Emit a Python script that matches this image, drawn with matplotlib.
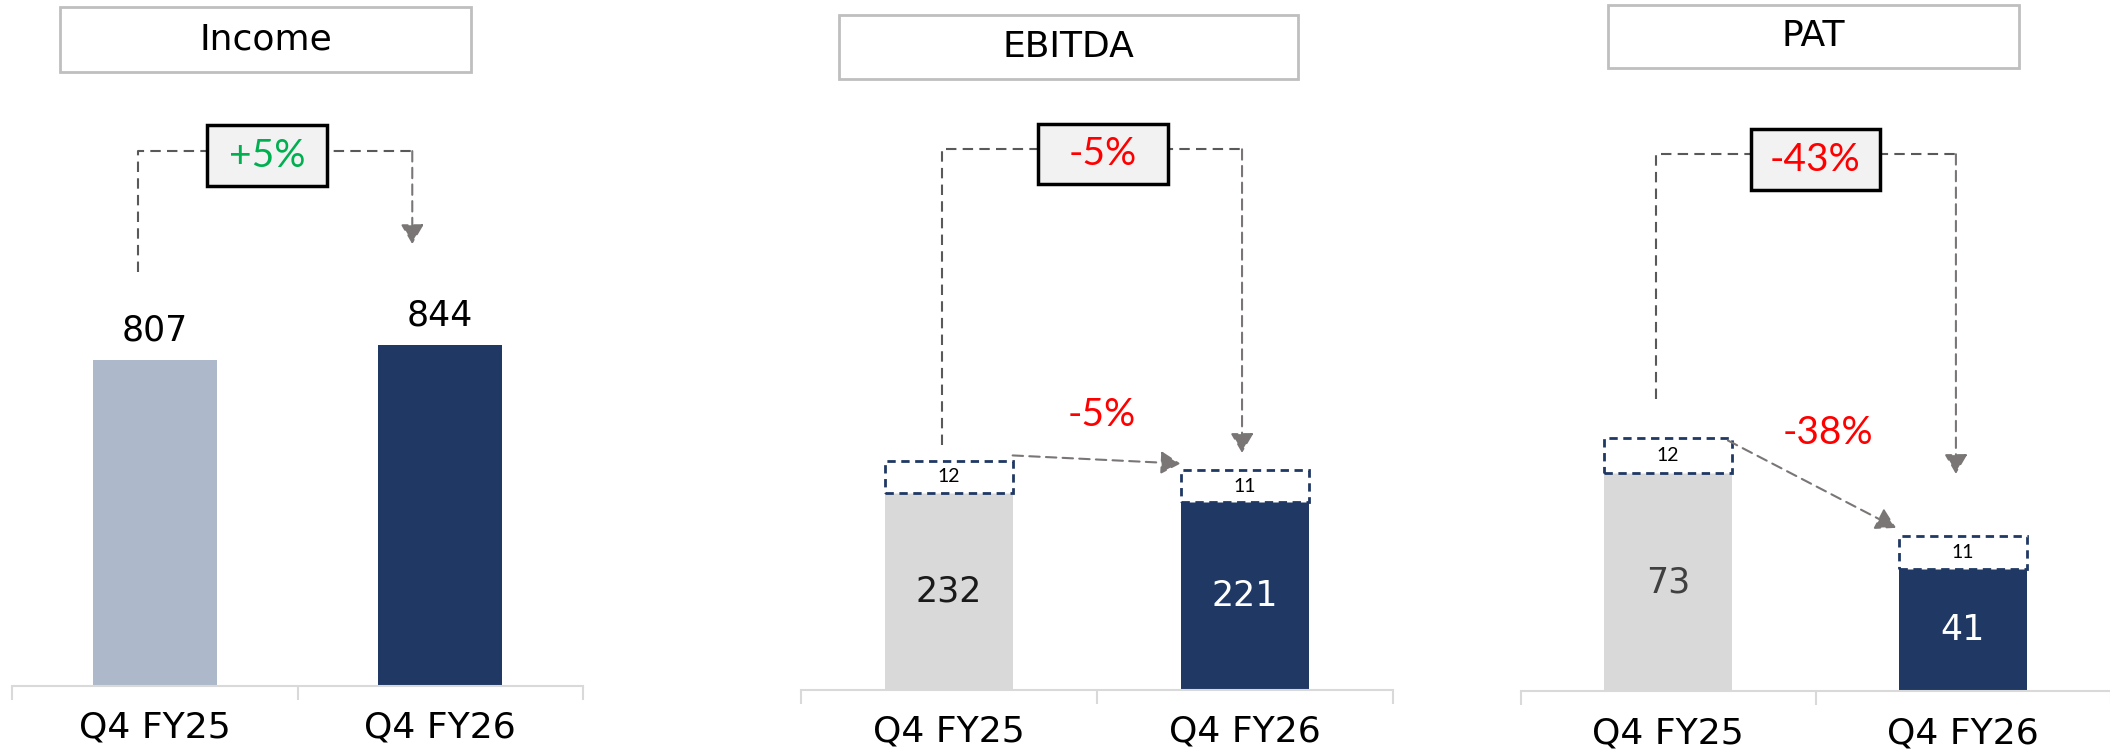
import matplotlib.pyplot as plt
from matplotlib.patches import Rectangle

# data
periods = ['Q4 FY25', 'Q4 FY26']

income = [807, 844]
income_change = '+5%'

ebitda = [232, 221]
ebitda_other = [12, 11]
ebitda_change = '-5%'
ebitda_change_core = '-5%'

pat = [73, 41]
pat_other = [12, 11]
pat_change = '-43%'
pat_change_core = '-38%'

# colours
NAVY = '#203864'
LIGHT_BLUE = '#ADB8CA'
LIGHT_GREY = '#D9D9D9'
ARROW = '#7A7676'
GREEN = '#00B050'
RED = '#FF0000'

MAIN = 'DejaVu Sans'
SANS = ['Lato', 'DejaVu Sans']

W, H = 2110, 755
fig = plt.figure(figsize=(W / 100, H / 100), dpi=100)


def make_ax(left, right, bottom, ymax):
    ax = fig.add_axes([left / W, 1 - bottom / H, (right - left) / W, bottom / H])
    ax.set_xlim(-0.5, 1.5)
    ax.set_ylim(0, ymax)
    for s in ['top', 'left', 'right']:
        ax.spines[s].set_visible(False)
    ax.spines['bottom'].set_color(LIGHT_GREY)
    ax.spines['bottom'].set_linewidth(1.5)
    ax.set_yticks([])
    ax.set_xticks([0, 1])
    ax.set_xticklabels(periods, fontsize=26, family=MAIN)
    ax.tick_params(axis='x', which='major', length=0, pad=18)
    ax.set_xticks([-0.5, 0.5, 1.5], minor=True)
    ax.tick_params(axis='x', which='minor', length=10, width=1.5, color=LIGHT_GREY)
    ax.set_facecolor('none')
    return ax


def px_scale(ax):
    bb = ax.get_position()
    return (bb.width * W) / 2.0, (bb.height * H) / ax.get_ylim()[1]


def arrow(ax, start, end):
    ax.annotate('', xy=end, xytext=start,
                arrowprops=dict(arrowstyle='-|>,head_length=0.6,head_width=0.35',
                                color=ARROW, lw=1.5, linestyle=(0, (5, 3)),
                                shrinkA=0, shrinkB=0, mutation_scale=20))


def bracket(ax, x0, x1, y_top, y_left, y_tip, label, color, box_x, box_y, box_w, box_h):
    ax.plot([x0, x0, x1], [y_left, y_top, y_top], color='#595959', lw=1.5,
            linestyle=(0, (5, 3)))
    arrow(ax, (x1, y_top), (x1, y_tip))
    sx, sy = px_scale(ax)
    w, h = box_w / sx, box_h / sy
    ax.add_patch(Rectangle((box_x - w / 2, box_y - h / 2), w, h, facecolor='#F2F2F2',
                           edgecolor='black', lw=2.5, zorder=5, clip_on=False))
    ax.text(box_x, box_y, label, color=color, fontsize=28, family=SANS,
            ha='center', va='center', zorder=6)


def title_box(x0, x1, y0, y1, text):
    fig.add_artist(Rectangle((x0 / W, 1 - y1 / H), (x1 - x0) / W, (y1 - y0) / H,
                             transform=fig.transFigure, facecolor='white',
                             edgecolor='#BFBFBF', lw=2))
    fig.text((x0 + x1) / 2 / W, 1 - (y0 + y1) / 2 / H, text, fontsize=26,
             family=MAIN, ha='center', va='center')


def stacked(ax, base, other, colors, label_colors, min_frac=0.046):
    x = range(len(base))
    ax.bar(x, base, width=0.435, color=colors, zorder=2)
    seg = [max(v, min_frac * ax.get_ylim()[1]) for v in other]
    ax.bar(x, seg, bottom=base, width=0.435, facecolor='white', edgecolor=NAVY,
           lw=2, linestyle=(0, (3, 2)), zorder=3)
    for i in x:
        ax.text(i, base[i] / 2, str(base[i]), fontsize=25, family=MAIN, ha='center',
                va='center', color=label_colors[i], zorder=4)
        ax.text(i, base[i] + seg[i] / 2, str(other[i]), fontsize=14, family=SANS,
                ha='center', va='center', zorder=4)


# Income
ax1 = make_ax(12, 583, 686, 1698)
ax1.bar(range(2), income, width=0.435, color=[LIGHT_BLUE, NAVY], zorder=2)
for i, v in enumerate(income):
    ax1.annotate(str(v), (i, v), xytext=(0, 9), textcoords='offset points',
                 ha='center', va='bottom', fontsize=25, family=MAIN)
bracket(ax1, -0.057, 0.902, 1324, 1025, 1094, income_change, GREEN, 0.393, 1312, 120, 61)
title_box(60, 471, 7, 72, 'Income')

# EBITDA
ax2 = make_ax(801, 1393, 689.5, 813)
stacked(ax2, ebitda, ebitda_other, [LIGHT_GREY, NAVY], ['#1a1a1a', 'white'])
bracket(ax2, -0.022, 0.99, 637, 288, 279, ebitda_change, RED, 0.52, 631.5, 130, 60)
ax2.text(0.515, 324, ebitda_change_core, color=RED, fontsize=28, family=SANS,
         ha='center', va='center')
arrow(ax2, (0.215, 276), (0.782, 266.4))
title_box(839, 1298, 15, 79, 'EBITDA')

# PAT
ax3 = make_ax(1520.5, 2110.5, 691, 231.7)
stacked(ax3, pat, pat_other, [LIGHT_GREY, NAVY], ['#404040', 'white'])
bracket(ax3, -0.041, 0.976, 180, 98, 72.8, pat_change, RED, 0.5, 178.2, 129, 61)
ax3.text(0.541, 86.5, pat_change_core, color=RED, fontsize=28, family=SANS,
         ha='center', va='center')
arrow(ax3, (0.203, 84), (0.773, 54.7))
title_box(1608, 2019, 5, 68, 'PAT')

fig.savefig('out.png', dpi=100)
